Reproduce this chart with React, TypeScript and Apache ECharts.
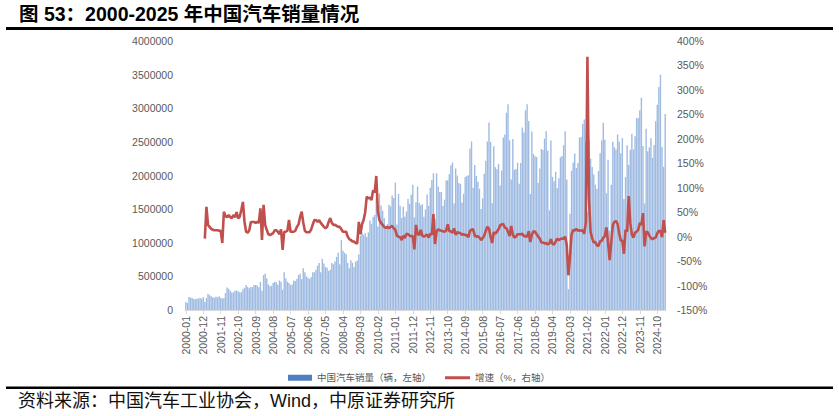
import React, { useEffect, useRef } from "react";
import * as echarts from "echarts";

const FIRST_YEAR = 2000;
const LAST_YEAR = 2025;
const LAST_MONTH = 3;

const categories: string[] = [];
for (let y = FIRST_YEAR; y <= LAST_YEAR; y++) {
  for (let m = 1; m <= 12; m++) {
    if (y === LAST_YEAR && m > LAST_MONTH) break;
    categories.push(`${y}-${m < 10 ? "0" + m : m}`);
  }
}

// 中国汽车销量（辆）monthly, 2000-01 .. 2025-03
const sales: number[] = [
  // 2000
  120000, 105000, 195000, 185000, 178000, 165000, 160000, 172000, 170000, 182000, 165000, 192000,
  // 2001
  118000, 178000, 240000, 220000, 205000, 190000, 182000, 196000, 190000, 205000, 183000, 170000,
  // 2002
  180000, 250000, 335000, 315000, 286000, 262000, 262000, 285000, 290000, 280000, 265000, 264000,
  // 2003
  310000, 330000, 372000, 342000, 325000, 342000, 340000, 372000, 370000, 365000, 340000, 418000,
  // 2004
  288000, 520000, 540000, 470000, 380000, 355000, 360000, 400000, 420000, 412000, 375000, 440000,
  // 2005
  420000, 300000, 560000, 470000, 420000, 400000, 370000, 380000, 440000, 430000, 460000, 520000,
  // 2006
  540000, 460000, 620000, 560000, 500000, 480000, 460000, 490000, 560000, 560000, 600000, 660000,
  // 2007
  700000, 560000, 760000, 690000, 640000, 630000, 580000, 600000, 700000, 680000, 720000, 790000,
  // 2008
  850000, 680000, 1040000, 880000, 850000, 830000, 700000, 620000, 740000, 700000, 640000, 720000,
  // 2009
  736000, 827000, 1104000, 1152000, 1117000, 1141000, 1084000, 1153000, 1330000, 1281000, 1383000, 1413000,
  // 2010
  1662000, 1243000, 1734000, 1555000, 1476000, 1368000, 1228000, 1277000, 1564000, 1542000, 1702000, 1666000,
  // 2011
  1893000, 1270000, 1729000, 1550000, 1369000, 1535000, 1386000, 1464000, 1650000, 1577000, 1715000, 1864000,
  // 2012
  1377000, 1602000, 1836000, 1595000, 1558000, 1572000, 1388000, 1495000, 1717000, 1547000, 1816000, 1934000,
  // 2013
  2033000, 1353000, 2033000, 1835000, 1755000, 1756000, 1545000, 1641000, 1925000, 1931000, 2020000, 2152000,
  // 2014
  2194000, 1583000, 2105000, 2000000, 1889000, 1872000, 1600000, 1729000, 1978000, 1991000, 2004000, 2402000,
  // 2015
  2506000, 1818000, 2156000, 1994000, 1908000, 1803000, 1503000, 1660000, 2025000, 2220000, 2505000, 2789000,
  // 2016
  2501000, 1589000, 2435000, 2123000, 2092000, 2173000, 1852000, 2074000, 2566000, 2610000, 2934000, 3060000,
  // 2017
  2523000, 1939000, 2544000, 2084000, 2096000, 2189000, 1879000, 2186000, 2713000, 2638000, 2969000, 3059000,
  // 2018
  2809000, 1725000, 2656000, 2319000, 2288000, 2274000, 1889000, 2103000, 2394000, 2380000, 2548000, 2661000,
  // 2019
  2367000, 1482000, 2520000, 1980000, 1913000, 2056000, 1809000, 1958000, 2271000, 2291000, 2450000, 2657000,
  // 2020
  1941000, 310000, 1430000, 2070000, 2194000, 2328000, 2112000, 2186000, 2565000, 2573000, 2765000, 2831000,
  // 2021
  2503000, 1455000, 2526000, 2252000, 2128000, 2015000, 1864000, 1799000, 2067000, 2332000, 2521000, 2786000,
  // 2022
  2531000, 1737000, 2234000, 1181000, 1862000, 2502000, 2420000, 2383000, 2610000, 2505000, 2329000, 2556000,
  // 2023
  1649000, 1976000, 2451000, 2159000, 2382000, 2622000, 2387000, 2582000, 2858000, 2853000, 2970000, 3156000,
  // 2024
  2439000, 1584000, 2694000, 2359000, 2417000, 2553000, 2262000, 2453000, 2809000, 3053000, 3317000, 3499000,
  // 2025
  2423000, 2129000, 2915000,
];

// 增速（%）YoY, 2000 has none
const growth: (number | null)[] = [
  // 2000
  null, null, null, null, null, null, null, null, null, null, null, null,
  // 2001
  -4, 61, 24, 20, 16, 14, 13, 13, 13, 12, 12, -13,
  // 2002
  51, 42, 40, 44, 40, 38, 44, 40, 50, 37, 41, 55,
  // 2003
  71, 30, 10, 8, 13, 30, 30, 30, 28, 30, 28, 58,
  // 2004
  -7, 65, 24, 14, 5, 3, 5, 7, 13, 13, 10, 5,
  // 2005
  15, -27, 10, 10, 12, 34, 10, 10, 10, 12, 20, 25,
  // 2006
  40, 51, 29, 12, 9, 9, 9, 15, 25, 34, 34, 30,
  // 2007
  34, 28, 24, 20, 17, 20, 30, 38, 28, 24, 24, 22,
  // 2008
  20, 20, 15, 10, 10, 10, 0, -5, -7, -10, -10, -13,
  // 2009
  -14, 30, 5, 25, 34, 50, 82, 78, 80, 75, 95, 90,
  // 2010
  124, 51, 34, 28, 24, 20, 18, 20, 17, 20, 22, 17,
  // 2011
  14, 2, 0, -1, -7, 2, -3, 6, 5, 2, 1, 1,
  // 2012
  -26, 24, 6, 3, 14, 2, 0, 2, 4, -2, 6, 4,
  // 2013
  46, -15, 11, 15, 13, 12, 11, 10, 12, 25, 11, 11,
  // 2014
  8, 17, 4, 9, 8, 7, 4, 5, 3, 3, -1, 12,
  // 2015
  14, 15, 2, 0, 1, -2, -7, -3, 2, 12, 20, 16,
  // 2016
  0, -13, 9, 6, 10, 15, 23, 25, 26, 18, 17, 10,
  // 2017
  1, 22, 4, -2, 0, 5, 5, 5, 6, 1, 1, 0,
  // 2018
  11, -11, 4, 11, 10, 5, 0, -4, -12, -12, -14, -13,
  // 2019
  -16, -14, -5, -15, -16, -10, -4, -7, -5, -4, -4, 0,
  // 2020
  -18, -79, -43, 4, 14, 12, 16, 12, 13, 12, 13, 6,
  // 2021
  29, 368, 77, 9, -3, -12, -11, -18, -19, -9, -9, -2,
  // 2022
  1, 19, -12, -48, -13, 24, 30, 32, 26, 7, -8, -8,
  // 2023
  -35, 14, 10, 83, 27, 5, -2, 8, 10, 14, 28, 24,
  // 2024
  48, -20, 10, 9, 2, -3, -5, -3, -2, 7, 12, 11,
  // 2025
  -1, 34, 8,
];

const TITLE = "图 53：2000-2025 年中国汽车销量情况";
const SOURCE = "资料来源：中国汽车工业协会，Wind，中原证券研究所";
const BAR_NAME = "中国汽车销量（辆，左轴）";
const LINE_NAME = "增速（%，右轴）";

const FONT = "'Liberation Sans', Arial, 'Noto Sans CJK SC', sans-serif";
const CJK = "'Liberation Sans', 'Noto Sans CJK SC', sans-serif";

export default function App() {
  const ref = useRef<HTMLDivElement>(null);
  useEffect(() => {
    if (!ref.current) return;
    const chart = echarts.init(ref.current, null, { renderer: "svg" });
    const option: any = {
      animation: false,
      backgroundColor: "#ffffff",
      textStyle: { fontFamily: FONT },
      grid: { left: 185, right: 173, top: 41, bottom: 106, containLabel: false },
      legend: [
        {
          left: 283,
          top: 368,
          itemWidth: 24,
          itemHeight: 6,
          itemGap: 10,
          icon: "rect",
          textStyle: { fontSize: 9.5, color: "#595959", fontFamily: CJK },
          data: [{ name: BAR_NAME, itemStyle: { color: "#4F7EC2" } }],
        },
        {
          left: 440,
          top: 368,
          itemWidth: 25,
          itemHeight: 3,
          icon: "rect",
          textStyle: { fontSize: 9.5, color: "#595959", fontFamily: CJK },
          data: [{ name: LINE_NAME, itemStyle: { color: "#C0504D" } }],
        },
      ],
      xAxis: {
        type: "category",
        data: categories,
        boundaryGap: true,
        axisLine: { show: true, lineStyle: { color: "#D9D9D9", width: 1 } },
        axisTick: { show: true, interval: 10, alignWithLabel: true, length: 4, lineStyle: { color: "#D9D9D9" } },
        axisLabel: {
          interval: 10,
          rotate: 90,
          margin: 6,
          fontSize: 10.5,
          color: "#595959",
          fontFamily: FONT,
        },
        splitLine: { show: false },
      },
      yAxis: [
        {
          type: "value",
          min: 0,
          max: 4000000,
          interval: 500000,
          axisLine: { show: false },
          axisTick: { show: false },
          splitLine: { show: false },
          axisLabel: {
            fontSize: 10.5,
            color: "#595959",
            margin: 12,
            fontFamily: FONT,
            formatter: (v: number) => String(v),
          },
        },
        {
          type: "value",
          min: -150,
          max: 400,
          interval: 50,
          axisLine: { show: false },
          axisTick: { show: false },
          splitLine: { show: false },
          axisLabel: { fontSize: 10.5, color: "#595959", margin: 11, formatter: "{value}%", fontFamily: FONT },
        },
      ],
      series: [
        {
          name: BAR_NAME,
          type: "bar",
          data: sales,
          yAxisIndex: 0,
          barCategoryGap: "12%",
          itemStyle: { color: "#9FBBE2" },
        },
        {
          name: LINE_NAME,
          type: "line",
          data: growth,
          yAxisIndex: 1,
          showSymbol: false,
          symbol: "none",
          connectNulls: false,
          lineStyle: { color: "#C0504D", width: 2.6 },
          itemStyle: { color: "#C0504D" },
          z: 3,
        },
      ],
      graphic: [
        {
          type: "text",
          left: 19,
          top: 4,
          style: {
            text: TITLE,
            fontSize: 19.5,
            fontWeight: "bold",
            fill: "#000000",
            fontFamily: CJK,
          },
        },
        {
          type: "rect",
          shape: { x: 6, y: 27, width: 827, height: 3 },
          style: { fill: "#000000" },
        },
        {
          type: "rect",
          shape: { x: 6, y: 386.5, width: 827, height: 2.5 },
          style: { fill: "#000000" },
        },
        {
          type: "text",
          left: 18,
          top: 392,
          style: {
            text: SOURCE,
            fontSize: 18,
            fill: "#111111",
            fontFamily: CJK,
          },
        },
      ],
    };
    chart.setOption(option);
    return () => chart.dispose();
  }, []);
  return (
    <div
      ref={ref}
      style={{ position: "absolute", left: 0, top: 0, width: 839, height: 416 }}
    />
  );
}
